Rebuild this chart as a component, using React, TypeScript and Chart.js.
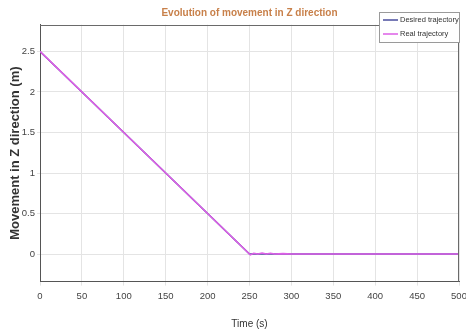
import React, { useEffect, useRef } from "react";
import { Chart, registerables } from "chart.js";

Chart.register(...registerables);

const timeDesired = [0, 250, 500];
const zDesired = [2.5, 0, 0];
const timeReal = [0, 100, 200, 249, 251, 255, 260, 265, 270, 275, 280, 290, 300, 350, 400, 450, 500];
const zReal = [2.5, 1.5, 0.5, 0.01, -0.01, 0.01, 0.0, 0.012, 0.0, 0.01, 0.0, 0.005, 0.0, 0.0, 0.0, 0.0, 0.0];
const xTicks = [0, 50, 100, 150, 200, 250, 300, 350, 400, 450, 500];
const yTicks = [0, 0.5, 1, 1.5, 2, 2.5];
const seriesNames = ["Desired trajectory", "Real trajectory"];
const seriesColors = ["#4a4e9e", "#dd5fe6"];
const titleText = "Evolution of movement in Z direction";

const FONT = "'Liberation Sans', Arial, sans-serif";

const decorPlugin = {
  id: "decor",
  afterDraw(chart: any) {
    const ctx = chart.ctx;
    const a = chart.chartArea;
    ctx.save();
    // plot box
    ctx.strokeStyle = "#6a6a6a";
    ctx.lineWidth = 1;
    ctx.beginPath();
    ctx.moveTo(a.left, Math.round(a.top) + 0.5);
    ctx.lineTo(a.right, Math.round(a.top) + 0.5);
    ctx.moveTo(Math.round(a.right) - 0.5, a.top);
    ctx.lineTo(Math.round(a.right) - 0.5, a.bottom);
    ctx.stroke();
    // title
    ctx.fillStyle = "#c8804a";
    ctx.font = "bold 10px " + FONT;
    ctx.textAlign = "center";
    ctx.textBaseline = "middle";
    ctx.fillText(titleText, (a.left + a.right) / 2, 13);
    // legend
    const x0 = 379, y0 = 12, w = 80, h = 30;
    ctx.fillStyle = "#ffffff";
    ctx.strokeStyle = "#9a9a9a";
    ctx.fillRect(x0, y0, w, h);
    ctx.strokeRect(x0 + 0.5, y0 + 0.5, w, h);
    ctx.font = "7.5px " + FONT;
    ctx.textAlign = "left";
    seriesNames.forEach((name, i) => {
      const y = y0 + 8 + i * 14;
      ctx.strokeStyle = seriesColors[i];
      ctx.lineWidth = 1.5;
      ctx.beginPath();
      ctx.moveTo(x0 + 4, y);
      ctx.lineTo(x0 + 19, y);
      ctx.stroke();
      ctx.fillStyle = "#333333";
      ctx.fillText(name, x0 + 21, y);
    });
    ctx.restore();
  },
};

export default function App() {
  const ref = useRef<HTMLCanvasElement>(null);
  useEffect(() => {
    const chart = new Chart(ref.current!, {
      type: "line",
      data: {
        datasets: [
          {
            label: seriesNames[0],
            data: timeDesired.map((t, i) => ({ x: t, y: zDesired[i] })),
            borderColor: seriesColors[0],
            borderWidth: 1.5,
            pointRadius: 0,
            order: 2,
          },
          {
            label: seriesNames[1],
            data: timeReal.map((t, i) => ({ x: t, y: zReal[i] })),
            borderColor: seriesColors[1],
            borderWidth: 1.6,
            pointRadius: 0,
            order: 1,
          },
        ],
      },
      options: {
        animation: false,
        responsive: false,
        layout: { padding: { left: 0, right: 7, top: 24.7, bottom: 0 } },
        plugins: {
          legend: { display: false },
          tooltip: { enabled: false },
          title: { display: false },
        },
        scales: {
          x: {
            type: "linear",
            min: 0,
            max: 500,
            afterBuildTicks: (s: any) => {
              s.ticks = xTicks.map((v) => ({ value: v }));
            },
            afterFit: (s: any) => {
              s.height = 50.4;
              s.paddingLeft = 0;
              s.paddingRight = 0;
            },
            grid: { color: "#e4e4e4", tickLength: 4, drawTicks: true },
            border: { color: "#555555" },
            ticks: { color: "#444444", font: { family: FONT, size: 9.5 }, padding: 5, maxRotation: 0 },
            title: { display: true, text: "Time (s)", color: "#333333", font: { family: FONT, size: 10 }, padding: { top: 0, bottom: 2 } },
          },
          y: {
            type: "linear",
            min: -0.34,
            max: 2.83,
            afterBuildTicks: (s: any) => {
              s.ticks = yTicks.map((v) => ({ value: v }));
            },
            afterFit: (s: any) => {
              s.width = 40;
              s.paddingTop = 0;
              s.paddingBottom = 0;
            },
            grid: { color: "#e4e4e4", tickLength: 3 },
            border: { color: "#555555" },
            ticks: {
              color: "#444444",
              font: { family: FONT, size: 9.5 },
              padding: 2,
              callback: (v: any) => String(v),
            },
            title: {
              display: true,
              text: "Movement in Z direction (m)",
              color: "#333333",
              font: { family: FONT, size: 13, weight: "bold" },
              padding: { top: 8, bottom: 0 },
            },
          },
        },
      },
      plugins: [decorPlugin],
    } as any);
    return () => chart.destroy();
  }, []);
  return (
    <div style={{ position: "fixed", left: 0, top: 0, width: 466, height: 332, background: "#fff" }}>
      <canvas ref={ref} width={466} height={332} style={{ width: 466, height: 332 }} />
    </div>
  );
}
